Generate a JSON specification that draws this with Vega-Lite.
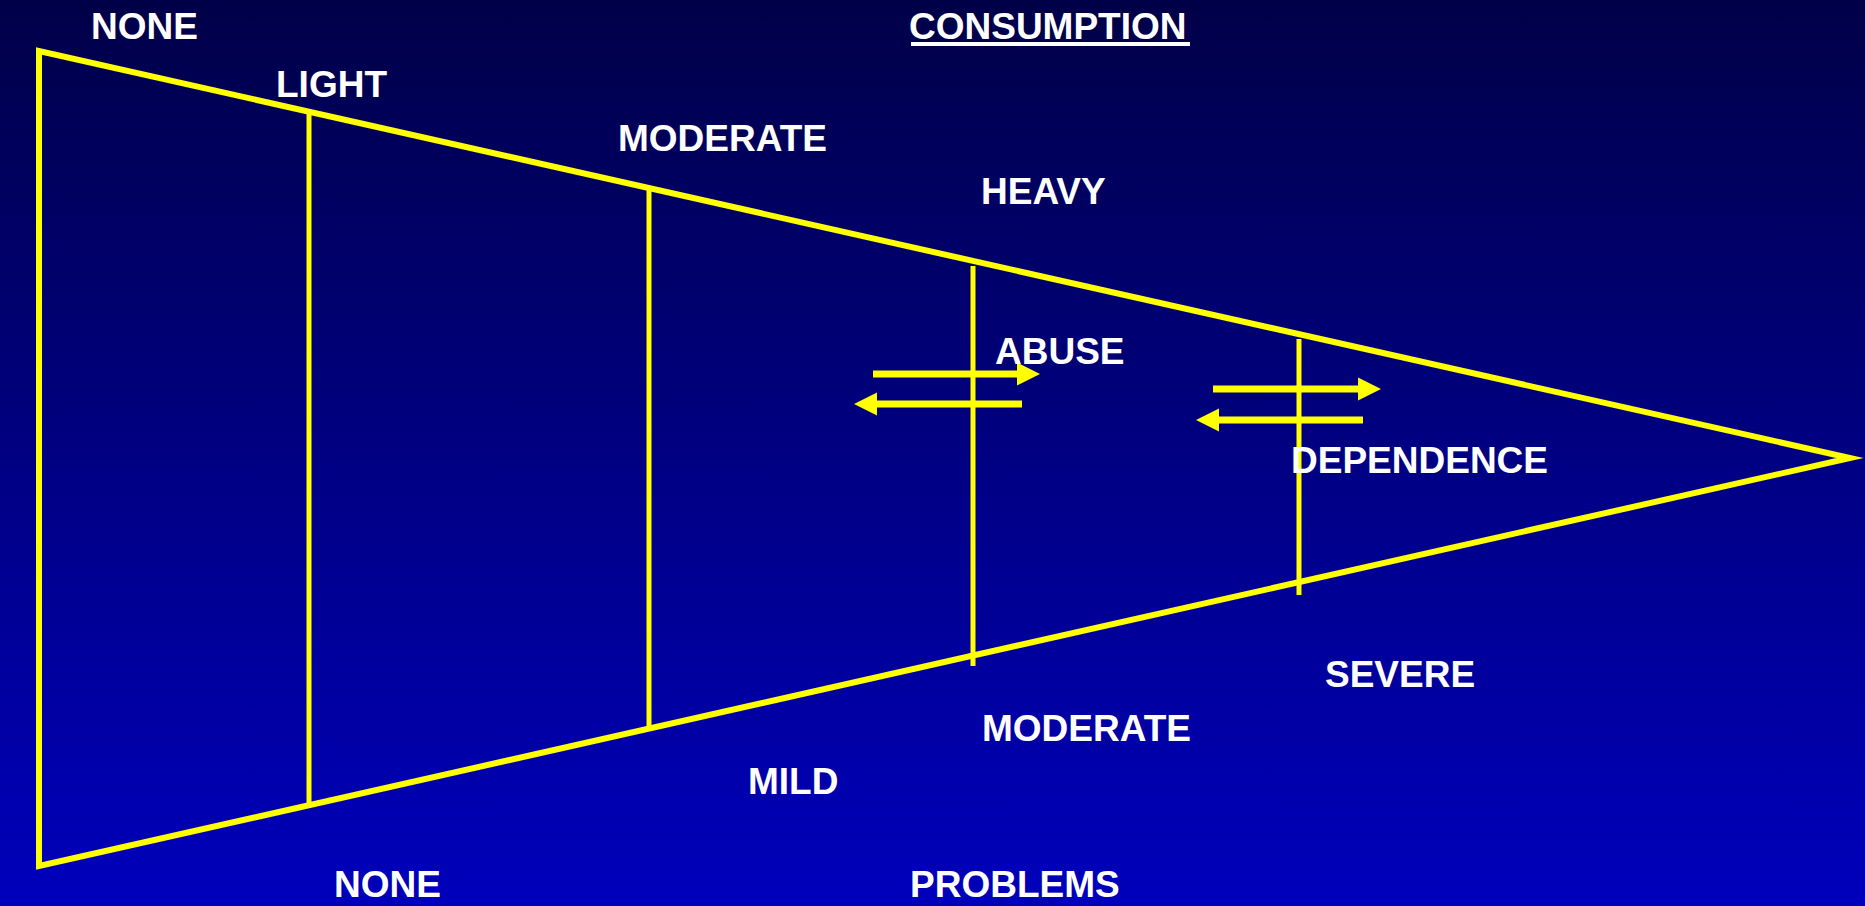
{
  "$schema": "https://vega.github.io/schema/vega-lite/v6.json",
  "width": 1865,
  "height": 906,
  "autosize": {"type": "none"},
  "padding": 0,
  "background": "#000070",
  "config": {"view": {"stroke": null}},
  "datasets": {
    "bg": [{"x0": 0, "x1": 1865, "y0": 0, "y1": 906}],
    "outline": [
      {"i": 0, "x": 39, "y": 458},
      {"i": 1, "x": 39, "y": 51},
      {"i": 2, "x": 1850, "y": 458},
      {"i": 3, "x": 39, "y": 866},
      {"i": 4, "x": 39, "y": 458}
    ],
    "dividers": [
      {"x": 309, "y": 111, "y2": 806},
      {"x": 649, "y": 187, "y2": 729},
      {"x": 973, "y": 266, "y2": 666},
      {"x": 1299, "y": 339, "y2": 595}
    ],
    "arrows": [
      {"dir": "right", "y": 374, "tail": 873, "base": 1019, "tip": 1040},
      {"dir": "left", "y": 404, "tail": 1022, "base": 876, "tip": 854},
      {"dir": "right", "y": 389, "tail": 1213, "base": 1359, "tip": 1381},
      {"dir": "left", "y": 420, "tail": 1363, "base": 1218, "tip": 1196}
    ],
    "labels": [
      {"label": "NONE", "x": 91, "y": 39},
      {"label": "LIGHT", "x": 276, "y": 97},
      {"label": "MODERATE", "x": 618, "y": 151},
      {"label": "CONSUMPTION", "x": 909, "y": 39},
      {"label": "HEAVY", "x": 981, "y": 204},
      {"label": "ABUSE", "x": 995, "y": 364},
      {"label": "DEPENDENCE", "x": 1291, "y": 473},
      {"label": "SEVERE", "x": 1325, "y": 687},
      {"label": "MODERATE", "x": 982, "y": 741},
      {"label": "MILD", "x": 748, "y": 794},
      {"label": "PROBLEMS", "x": 910, "y": 897},
      {"label": "NONE", "x": 334, "y": 897}
    ],
    "underline": [{"x": 911, "x2": 1190, "y": 44}]
  },
  "layer": [
    {
      "data": {"name": "bg"},
      "mark": {
        "type": "rect",
        "color": {
          "gradient": "linear",
          "x1": 0, "y1": 0, "x2": 0, "y2": 1,
          "stops": [
            {"offset": 0, "color": "#000048"},
            {"offset": 1, "color": "#0000bc"}
          ]
        }
      },
      "encoding": {
        "x": {"field": "x0", "type": "quantitative", "scale": {"domain": [0, 1865], "nice": false, "zero": false}, "axis": null},
        "x2": {"field": "x1"},
        "y": {"field": "y0", "type": "quantitative", "scale": {"domain": [0, 906], "nice": false, "zero": false, "reverse": true}, "axis": null},
        "y2": {"field": "y1"}
      }
    },
    {
      "data": {"name": "outline"},
      "mark": {"type": "line", "color": "#ffff00", "strokeWidth": 6, "strokeJoin": "miter", "strokeMiterLimit": 10},
      "encoding": {
        "x": {"field": "x", "type": "quantitative"},
        "y": {"field": "y", "type": "quantitative"},
        "order": {"field": "i", "type": "quantitative"}
      }
    },
    {
      "data": {"name": "arrows"},
      "mark": {"type": "rule", "color": "#ffff00", "strokeWidth": 7},
      "encoding": {
        "x": {"field": "tail", "type": "quantitative"},
        "x2": {"field": "base"},
        "y": {"field": "y", "type": "quantitative"}
      }
    },
    {
      "data": {"name": "arrows"},
      "mark": {"type": "point", "filled": true, "color": "#ffff00", "opacity": 1, "size": 529, "strokeWidth": 0},
      "encoding": {
        "x": {"field": "tip", "type": "quantitative"},
        "y": {"field": "y", "type": "quantitative"},
        "shape": {"field": "dir", "type": "nominal", "scale": {"domain": ["right", "left"], "range": ["M0,0L-2,-1L-2,1Z", "M0,0L2,-1L2,1Z"]}, "legend": null}
      }
    },
    {
      "data": {"name": "dividers"},
      "mark": {"type": "rule", "color": "#ffff00", "strokeWidth": 5},
      "encoding": {
        "x": {"field": "x", "type": "quantitative"},
        "y": {"field": "y", "type": "quantitative"},
        "y2": {"field": "y2"}
      }
    },
    {
      "data": {"name": "underline"},
      "mark": {"type": "rule", "color": "#ffffff", "strokeWidth": 4},
      "encoding": {
        "x": {"field": "x", "type": "quantitative"},
        "x2": {"field": "x2"},
        "y": {"field": "y", "type": "quantitative"}
      }
    },
    {
      "data": {"name": "labels"},
      "mark": {"type": "text", "align": "left", "baseline": "alphabetic", "font": "Liberation Sans", "fontWeight": "bold", "fontSize": 37, "color": "#ffffff"},
      "encoding": {
        "x": {"field": "x", "type": "quantitative"},
        "y": {"field": "y", "type": "quantitative"},
        "text": {"field": "label", "type": "nominal"}
      }
    }
  ]
}
